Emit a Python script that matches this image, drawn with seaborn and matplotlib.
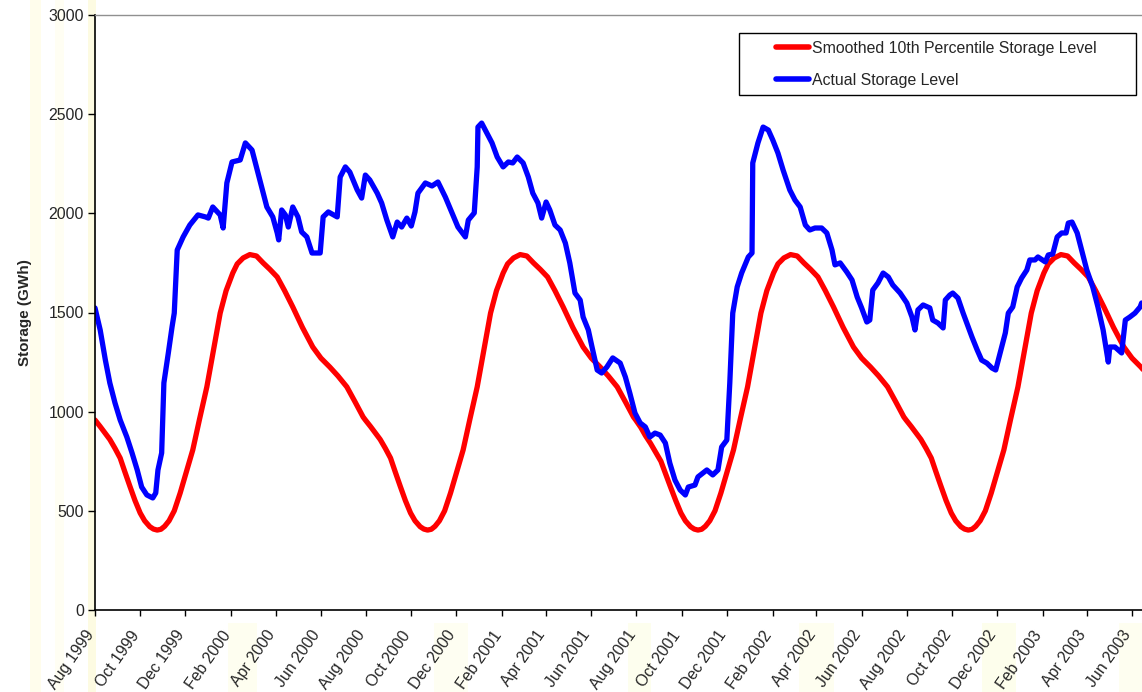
import matplotlib
matplotlib.use("Agg")
import numpy as np
import pandas as pd
import matplotlib.pyplot as plt
import matplotlib.dates as mdates
import matplotlib.transforms as mtrans
from matplotlib.patches import Rectangle
from matplotlib.lines import Line2D
import seaborn as sns

# ---------------- data ----------------
start_date = "1999-08-01"
series_names = ["Smoothed 10th Percentile Storage Level", "Actual Storage Level"]

# days since start_date
red_days = [0, 7, 13, 20, 27, 34, 40, 47, 54, 61, 67, 74, 79, 84, 89, 94, 100, 107, 115, 122, 132, 141, 151, 160, 169, 177, 186, 192, 200, 209, 218, 227, 236, 246, 256, 267, 280, 294, 305, 317, 328, 340, 351, 362,
            365, 372, 378, 385, 392, 399, 405, 412, 419, 426, 432, 439, 444, 449, 454, 459, 465, 472, 480, 487, 497, 506, 516, 525, 534, 542, 551, 557, 565, 574, 583, 592, 601, 611, 621, 632, 645, 659, 670, 682, 693, 705, 716, 727,
            730, 737, 743, 750, 757, 764, 770, 777, 784, 791, 797, 804, 809, 814, 819, 824, 830, 837, 845, 852, 862, 871, 881, 890, 899, 907, 916, 922, 930, 939, 948, 957, 966, 976, 986, 997, 1010, 1024, 1035, 1047, 1058, 1070, 1081, 1092,
            1095, 1102, 1108, 1115, 1122, 1129, 1135, 1142, 1149, 1156, 1162, 1169, 1174, 1179, 1184, 1189, 1195, 1202, 1210, 1217, 1227, 1236, 1246, 1255, 1264, 1272, 1281, 1287, 1295, 1304, 1313, 1322, 1331, 1341, 1351, 1362, 1375, 1389, 1400, 1412, 1415]
red_gwh = [958, 925, 895, 860, 815, 766, 700, 625, 552, 489, 450, 420, 408, 403, 407, 422, 450, 500, 590, 680, 807, 960, 1125, 1310, 1497, 1610, 1699, 1745, 1775, 1792, 1785, 1750, 1718, 1679, 1610, 1528, 1425, 1326, 1270, 1225, 1180, 1125, 1050, 973,
           958, 925, 895, 860, 815, 766, 700, 625, 552, 489, 450, 420, 408, 403, 407, 422, 450, 500, 590, 680, 807, 960, 1125, 1310, 1497, 1610, 1699, 1745, 1775, 1792, 1785, 1750, 1718, 1679, 1610, 1528, 1425, 1326, 1270, 1225, 1180, 1125, 1050, 973,
           958, 920, 880, 840, 795, 750, 690, 620, 552, 489, 450, 420, 408, 403, 407, 422, 450, 500, 590, 680, 807, 960, 1125, 1310, 1497, 1610, 1699, 1745, 1775, 1792, 1785, 1750, 1718, 1679, 1610, 1528, 1425, 1326, 1270, 1225, 1180, 1125, 1050, 973,
           958, 925, 895, 860, 815, 766, 700, 625, 552, 489, 450, 420, 408, 403, 407, 422, 450, 500, 590, 680, 807, 960, 1125, 1310, 1497, 1610, 1699, 1745, 1775, 1792, 1785, 1750, 1718, 1679, 1610, 1528, 1425, 1326, 1270, 1225, 1212]

blue_days = [0, 7, 14, 20, 27, 34, 43, 50, 57, 63, 70, 78, 82, 85, 90, 93, 99, 104, 107, 111,
             119, 128, 139, 149, 153, 159, 169, 173, 178, 185, 196, 203, 212, 219, 225, 232, 240, 246, 248, 252,
             257, 261, 267, 274, 279, 286, 293, 304, 308, 315, 327, 331, 338, 344, 354, 360, 365, 371,
             381, 387, 394, 402, 408, 414, 421, 427, 432, 436, 446, 455, 463, 473, 482, 490, 500, 504, 512, 516,
             517, 522, 529, 536, 543, 551, 558, 564, 570, 578, 585, 591, 598, 603, 609, 614, 621,
             628, 635, 641, 648, 655, 659, 666, 671, 678, 684, 691, 699, 709, 716, 722, 729, 736, 743, 749, 756,
             763, 770, 776, 783, 790, 797, 801, 810, 814, 826, 834, 841, 846, 853, 857, 861, 867, 873, 882, 887,
             888, 895, 902, 909, 915, 922, 929, 938, 945, 952, 959, 965, 972, 981, 988, 995, 999, 1006, 1015, 1022,
             1029, 1035, 1042, 1046, 1050, 1057, 1064, 1071, 1077, 1087, 1096, 1103, 1107, 1111, 1118, 1127,
             1131, 1138, 1145, 1148, 1154, 1158, 1165, 1172, 1179, 1184, 1191, 1197, 1204, 1211, 1216, 1222, 1229, 1233, 1239, 1245,
             1251, 1258, 1262, 1269, 1273, 1283, 1287, 1293, 1299, 1305, 1311, 1314, 1319, 1326, 1332, 1339, 1347, 1354, 1361, 1368,
             1370, 1377, 1386, 1391, 1397, 1404, 1411, 1413]
blue_gwh = [1523, 1412, 1260, 1145, 1044, 958, 872, 792, 706, 620, 580, 565, 590, 706, 792, 1145, 1296, 1427, 1497, 1815,
            1881, 1941, 1992, 1982, 1976, 2032, 1992, 1926, 2153, 2259, 2269, 2355, 2319, 2218, 2133, 2032, 1982, 1901, 1866, 2017,
            1992, 1931, 2032, 1982, 1906, 1881, 1800, 1800, 1982, 2007, 1982, 2183, 2234, 2208, 2118, 2077, 2193, 2168,
            2102, 2052, 1966, 1881, 1956, 1931, 1976, 1936, 2007, 2102, 2153, 2138, 2158, 2082, 2002, 1931, 1881, 1966, 2002, 2234,
            2435, 2455, 2405, 2355, 2284, 2234, 2259, 2254, 2284, 2254, 2183, 2102, 2052, 1976, 2057, 2017, 1941,
            1916, 1850, 1750, 1598, 1563, 1477, 1412, 1326, 1210, 1195, 1225, 1271, 1245, 1175, 1094, 993, 943, 923, 872, 892,
            882, 842, 741, 655, 605, 580, 620, 630, 671, 706, 681, 706, 822, 857, 1145, 1497, 1629, 1699, 1780, 1800,
            2254, 2355, 2435, 2420, 2370, 2304, 2218, 2118, 2067, 2032, 1941, 1916, 1926, 1926, 1901, 1815, 1740, 1750, 1704, 1664,
            1578, 1523, 1452, 1462, 1613, 1649, 1699, 1679, 1639, 1598, 1548, 1477, 1412, 1513, 1538, 1523,
            1462, 1447, 1422, 1563, 1588, 1598, 1573, 1497, 1427, 1376, 1311, 1260, 1245, 1220, 1210, 1296, 1397, 1497, 1528, 1629,
            1674, 1714, 1765, 1765, 1780, 1755, 1790, 1795, 1881, 1901, 1901, 1951, 1956, 1901, 1815, 1714, 1629, 1528, 1412, 1250,
            1326, 1326, 1296, 1462, 1477, 1497, 1528, 1548]

y_ticks = [0, 500, 1000, 1500, 2000, 2500, 3000]
y_label = "Storage (GWh)"

# ---------------- build table ----------------
t0 = pd.Timestamp(start_date)
n = min(len(red_days), len(red_gwh))
m = min(len(blue_days), len(blue_gwh))
df = pd.concat([
    pd.DataFrame({"date": t0 + pd.to_timedelta(red_days[:n], unit="D"),
                  "gwh": red_gwh[:n], "series": series_names[0]}),
    pd.DataFrame({"date": t0 + pd.to_timedelta(blue_days[:m], unit="D"),
                  "gwh": blue_gwh[:m], "series": series_names[1]}),
], ignore_index=True)

# ---------------- style ----------------
sns.set_theme(style="white")
plt.rcParams["font.family"] = ["Liberation Sans", "DejaVu Sans"]

W, H = 1142, 692
FS = 11.4
fig = plt.figure(figsize=(W / 100, H / 100), dpi=100)
fig.patch.set_facecolor("white")

# faint yellow watermark in the margins
for x0, y0, w, h, c in [(0.026, 0.0, 0.010, 1.0, "#fffdec"), (0.048, 0.0, 0.008, 1.0, "#fffef3"),
                        (0.077, 0.0, 0.007, 1.0, "#fdfbe2"),
                        (0.20, 0.0, 0.025, 0.10, "#fefef0"), (0.38, 0.0, 0.03, 0.10, "#fefef2"),
                        (0.55, 0.0, 0.02, 0.10, "#fdfeee"), (0.70, 0.0, 0.03, 0.10, "#fefef0"),
                        (0.86, 0.0, 0.03, 0.10, "#fdfeec"), (0.98, 0.0, 0.02, 0.10, "#fefef0")]:
    fig.add_artist(Rectangle((x0, y0), w, h, transform=fig.transFigure,
                             facecolor=c, edgecolor="none", zorder=-10))

ax = fig.add_axes([95 / W, 82 / H, 1047 / W, 595 / H])
ax.set_facecolor("white")

sns.lineplot(data=df, x="date", y="gwh", hue="series", hue_order=series_names,
             palette={series_names[0]: "#ff0000", series_names[1]: "#0000ff"},
             estimator=None, sort=False, linewidth=3.8, ax=ax, legend=False)
for ln in ax.get_lines():
    ln.set_solid_joinstyle("round")
    ln.set_solid_capstyle("round")

ax.set_xlim(t0, t0 + pd.Timedelta(days=1413.5))
ax.set_ylim(0, 3000)
ax.set_yticks(y_ticks)
ax.set_xlabel("")
ax.set_ylabel(y_label, fontsize=11, fontweight="bold")
ax.yaxis.set_label_coords(-0.060, 0.5)

ax.xaxis.set_major_locator(mdates.MonthLocator(bymonth=[2, 4, 6, 8, 10, 12]))
ax.xaxis.set_major_formatter(mdates.DateFormatter("%b %Y"))
ax.tick_params(axis="x", direction="out", length=4, width=1, color="black",
               labelsize=FS, pad=12, bottom=True)
ax.tick_params(axis="y", direction="out", length=5, width=1, color="black",
               labelsize=FS, pad=3, left=True)

ax.grid(False)
for s in ["left", "bottom"]:
    ax.spines[s].set_color("black")
    ax.spines[s].set_linewidth(1.2)
ax.spines["top"].set_color("#909090")
ax.spines["top"].set_linewidth(1.0)
ax.spines["right"].set_visible(False)

# legend
handles = [Line2D([], [], color="#ff0000", lw=4), Line2D([], [], color="#0000ff", lw=4)]
leg = ax.legend(handles, series_names, loc="upper left",
                bbox_to_anchor=(776 / W, 1 - 41 / H), bbox_transform=fig.transFigure,
                frameon=False, fontsize=FS, handlelength=2.1, handletextpad=0.15,
                labelspacing=1.05, borderpad=0, borderaxespad=0)
fig.add_artist(Rectangle((739 / W, 1 - 95 / H), (1136 - 739) / W, 62 / H,
                         transform=fig.transFigure, fill=False, edgecolor="black", lw=1))

fig.canvas.draw()
shift = mtrans.ScaledTranslation(-4 / 100, 0, fig.dpi_scale_trans)
for lbl in ax.get_xticklabels():
    lbl.set_rotation(55)
    lbl.set_ha("right")
    lbl.set_va("center")
    lbl.set_rotation_mode("anchor")
    lbl.set_transform(lbl.get_transform() + shift)

fig.savefig("out.png", dpi=100)
